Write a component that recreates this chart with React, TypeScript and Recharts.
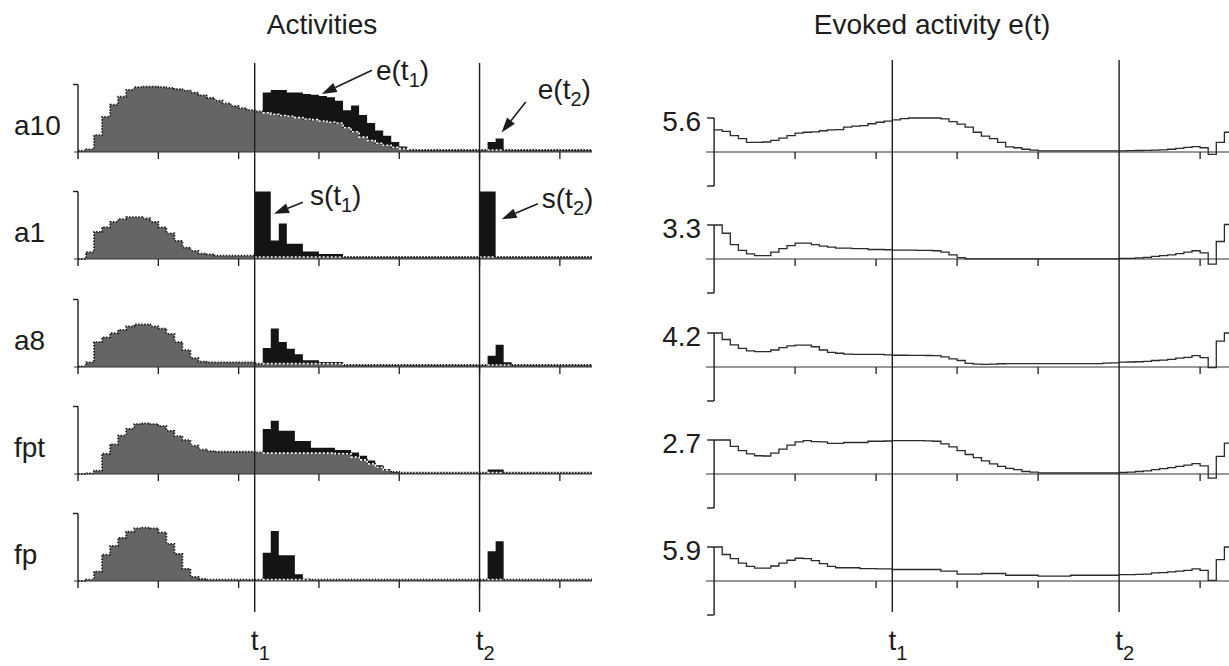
import React from 'react';
import { ComposedChart, Area, Line, XAxis, YAxis, ReferenceLine, ReferenceDot } from 'recharts';

// time bins, 2 units wide; the last entry only closes the final step
const T = [
  0, 2, 4, 6, 8, 10, 12, 14, 16, 18, 20, 22, 24, 26, 28, 30, 32, 34, 36, 38,
  40, 42, 44, 46, 48, 50, 52, 54, 56, 58, 60, 62, 64, 66, 68, 70, 72, 74, 76, 78,
  80, 82, 84, 86, 88, 90, 92, 94, 96, 98, 100, 102, 104, 106, 108, 110, 112, 114, 116, 118,
  120, 122, 124, 126, 128,
];
const T1 = 44;
const T2 = 100;
const T_SUBS = ['1', '2'];
const LEFT_TICKS = [20, 40, 60, 80, 100, 120];
const RIGHT_TICKS = [20, 40, 60, 80, 120];

const ROW_NAMES = ['a10', 'a1', 'a8', 'fpt', 'fp'];
const EVOKED_MAX = [5.6, 3.3, 4.2, 2.7, 5.9];

// background (grey) activity per row
const a10Bg = [
  0.02, 0.04, 0.25, 0.52, 0.7, 0.82, 0.92, 0.96, 0.97, 0.97,
  0.96, 0.95, 0.93, 0.91, 0.88, 0.84, 0.8, 0.76, 0.72, 0.68,
  0.65, 0.62, 0.6, 0.58, 0.56, 0.54, 0.53, 0.51, 0.49, 0.48,
  0.46, 0.44, 0.43, 0.36, 0.3, 0.22, 0.17, 0.13, 0.1, 0.07,
  0.05, 0.03, 0.03, 0.03, 0.03, 0.03, 0.03, 0.03, 0.03, 0.03,
  0.03, 0.03, 0.03, 0.03, 0.03, 0.03, 0.03, 0.03, 0.03, 0.03,
  0.03, 0.03, 0.03, 0.03, 0.03,
];
const a1Bg = [
  0, 0.1, 0.4, 0.47, 0.55, 0.59, 0.62, 0.62, 0.6, 0.55,
  0.47, 0.38, 0.27, 0.17, 0.12, 0.08, 0.07, 0.05, 0.05, 0.05,
  0.05, 0.05, 0.03, 0.03, 0.03, 0.03, 0.03, 0.03, 0.03, 0.03,
  0.03, 0.03, 0.03, 0.03, 0.03, 0.03, 0.03, 0.03, 0.03, 0.03,
  0.03, 0.03, 0.03, 0.03, 0.03, 0.03, 0.03, 0.03, 0.03, 0.03,
  0.03, 0.03, 0.03, 0.03, 0.03, 0.03, 0.03, 0.03, 0.03, 0.03,
  0.03, 0.03, 0.03, 0.03, 0.03,
];
const a8Bg = [
  0.01, 0.07, 0.37, 0.44, 0.5, 0.55, 0.6, 0.63, 0.63, 0.6,
  0.57, 0.49, 0.37, 0.25, 0.13, 0.08, 0.07, 0.07, 0.07, 0.07,
  0.07, 0.07, 0.05, 0.05, 0.05, 0.05, 0.05, 0.05, 0.05, 0.05,
  0.05, 0.05, 0.05, 0.03, 0.03, 0.03, 0.03, 0.03, 0.03, 0.03,
  0.03, 0.03, 0.03, 0.03, 0.03, 0.03, 0.03, 0.03, 0.03, 0.03,
  0.03, 0.03, 0.03, 0.03, 0.03, 0.03, 0.03, 0.03, 0.03, 0.03,
  0.03, 0.03, 0.03, 0.03, 0.03,
];
const fptBg = [
  0, 0.01, 0.05, 0.3, 0.44, 0.57, 0.67, 0.74, 0.75, 0.74,
  0.71, 0.64, 0.56, 0.5, 0.42, 0.36, 0.34, 0.33, 0.33, 0.33,
  0.33, 0.33, 0.32, 0.31, 0.31, 0.31, 0.31, 0.31, 0.31, 0.31,
  0.31, 0.31, 0.3, 0.3, 0.25, 0.21, 0.15, 0.1, 0.06, 0.03,
  0.02, 0.02, 0.02, 0.02, 0.02, 0.02, 0.02, 0.02, 0.02, 0.02,
  0.02, 0.02, 0.02, 0.02, 0.02, 0.02, 0.02, 0.02, 0.02, 0.02,
  0.02, 0.02, 0.02, 0.02, 0.02,
];
const fpBg = [
  0, 0.02, 0.14, 0.39, 0.52, 0.64, 0.73, 0.78, 0.79, 0.78,
  0.72, 0.55, 0.4, 0.18, 0.06, 0.03, 0.02, 0.02, 0.02, 0.02,
  0.02, 0.02, 0.02, 0.02, 0.02, 0.02, 0.02, 0.02, 0.02, 0.02,
  0.02, 0.02, 0.02, 0.02, 0.02, 0.02, 0.02, 0.02, 0.02, 0.02,
  0.02, 0.02, 0.02, 0.02, 0.02, 0.02, 0.02, 0.02, 0.02, 0.02,
  0.02, 0.02, 0.02, 0.02, 0.02, 0.02, 0.02, 0.02, 0.02, 0.02,
  0.02, 0.02, 0.02, 0.02, 0.02,
];

// stimulus-locked (black) activity, stacked on the background
const a10Ev = [
  0, 0, 0, 0, 0, 0, 0, 0, 0, 0,
  0, 0, 0, 0, 0, 0, 0, 0, 0, 0,
  0, 0, 0, 0.3, 0.36, 0.38, 0.35, 0.37, 0.37, 0.37,
  0.37, 0.37, 0.33, 0.26, 0.39, 0.33, 0.26, 0.19, 0.14, 0.08,
  0.03, 0, 0, 0, 0, 0, 0, 0, 0, 0,
  0, 0.12, 0.17, 0, 0, 0, 0, 0, 0, 0,
  0, 0, 0, 0, 0,
];
const a1Ev = [
  0, 0, 0, 0, 0, 0, 0, 0, 0, 0,
  0, 0, 0, 0, 0, 0, 0, 0, 0, 0,
  0, 0, 0.97, 0.97, 0.245, 0.495, 0.195, 0.195, 0.08, 0.08,
  0.045, 0.045, 0.045, 0, 0, 0, 0, 0, 0, 0,
  0, 0, 0, 0, 0, 0, 0, 0, 0, 0,
  0.97, 0.97, 0, 0, 0, 0, 0, 0, 0, 0,
  0, 0, 0, 0, 0,
];
const a8Ev = [
  0, 0, 0, 0, 0, 0, 0, 0, 0, 0,
  0, 0, 0, 0, 0, 0, 0, 0, 0, 0,
  0, 0, 0, 0.23, 0.52, 0.32, 0.22, 0.14, 0.05, 0.05,
  0.025, 0.025, 0.025, 0, 0, 0, 0, 0, 0, 0,
  0, 0, 0, 0, 0, 0, 0, 0, 0, 0,
  0, 0.135, 0.3, 0.04, 0, 0, 0, 0, 0, 0,
  0, 0, 0, 0, 0,
];
const fptEv = [
  0, 0, 0, 0, 0, 0, 0, 0, 0, 0,
  0, 0, 0, 0, 0, 0, 0, 0, 0, 0,
  0, 0, 0, 0.355, 0.48, 0.33, 0.33, 0.18, 0.18, 0.08,
  0.08, 0.08, 0.055, 0.055, 0.07, 0.06, 0.05, 0.03, 0.015, 0,
  0, 0, 0, 0, 0, 0, 0, 0, 0, 0,
  0, 0.045, 0.045, 0, 0, 0, 0, 0, 0, 0,
  0, 0, 0, 0, 0,
];
const fpEv = [
  0, 0, 0, 0, 0, 0, 0, 0, 0, 0,
  0, 0, 0, 0, 0, 0, 0, 0, 0, 0,
  0, 0, 0, 0.4, 0.72, 0.36, 0.36, 0.08, 0.015, 0,
  0, 0, 0, 0, 0, 0, 0, 0, 0, 0,
  0, 0, 0, 0, 0, 0, 0, 0, 0, 0,
  0, 0.42, 0.57, 0, 0, 0, 0, 0, 0, 0,
  0, 0, 0, 0, 0,
];

// evoked activity e(t) per row
const e56 = [
  3.65, 3.4, 2.7, 2.2, 1.57, 1.57, 1.65, 1.9, 2.3, 2.7,
  3.1, 3.25, 3.3, 3.5, 3.64, 3.7, 4.1, 4.26, 4.35, 4.65,
  4.9, 5.1, 5.3, 5.5, 5.6, 5.6, 5.6, 5.6, 5.45, 5.0,
  4.6, 4.1, 3.25, 2.6, 2.2, 1.57, 0.85, 0.7, 0.45, 0.3,
  0.17, 0.17, 0.17, 0.17, 0.17, 0.17, 0.17, 0.17, 0.17, 0.17,
  0.2, 0.22, 0.25, 0.28, 0.3, 0.35, 0.45, 0.6, 0.75, 0.9,
  0.7, -0.4, 1.6, 3.25, 3.25,
];
const e33 = [
  3.3, 2.5, 1.4, 0.83, 0.5, 0.33, 0.33, 0.66, 1.0, 1.3,
  1.55, 1.55, 1.4, 1.25, 1.15, 1.05, 1.05, 1.0, 1.0, 0.92,
  0.92, 0.9, 0.86, 0.86, 0.86, 0.83, 0.83, 0.8, 0.66, 0.4,
  0.13, 0.02, 0.02, 0.02, 0.02, 0.02, 0.02, 0.02, 0.02, 0.02,
  0.02, 0.02, 0.02, 0.02, 0.02, 0.02, 0.02, 0.02, 0.02, 0.02,
  0.07, 0.07, 0.1, 0.16, 0.26, 0.33, 0.4, 0.53, 0.66, 0.8,
  0.6, -0.5, 1.7, 3.35, 3.35,
];
const e42 = [
  4.2, 3.4, 2.73, 2.3, 2.0, 1.9, 1.9, 2.1, 2.4, 2.6,
  2.7, 2.7, 2.5, 2.1, 1.8, 1.7, 1.6, 1.55, 1.55, 1.55,
  1.55, 1.5, 1.45, 1.45, 1.43, 1.43, 1.42, 1.4, 1.25, 1.0,
  0.8, 0.45, 0.35, 0.32, 0.35, 0.4, 0.42, 0.42, 0.42, 0.42,
  0.42, 0.42, 0.42, 0.42, 0.42, 0.42, 0.42, 0.42, 0.48, 0.5,
  0.6, 0.62, 0.65, 0.7, 0.8, 0.85, 0.95, 1.1, 1.2, 1.4,
  1.15, -0.08, 3.2, 4.2, 4.2,
];
const e27 = [
  2.7, 2.7, 2.2, 1.86, 1.6, 1.45, 1.43, 1.65, 1.97, 2.3,
  2.55, 2.65, 2.57, 2.55, 2.43, 2.43, 2.5, 2.5, 2.5, 2.6,
  2.6, 2.62, 2.65, 2.65, 2.65, 2.65, 2.63, 2.6, 2.4, 2.15,
  1.85, 1.55, 1.3, 1.05, 0.8, 0.6, 0.45, 0.35, 0.2, 0.15,
  0.08, 0.08, 0.08, 0.08, 0.08, 0.08, 0.08, 0.08, 0.08, 0.08,
  0.12, 0.15, 0.2, 0.25, 0.35, 0.42, 0.5, 0.6, 0.7, 0.82,
  0.65, -0.32, 1.4, 2.45, 2.45,
];
const e59 = [
  5.9, 4.6, 3.9, 3.1, 2.55, 2.25, 2.25, 2.6, 3.1, 3.6,
  3.95, 3.9, 3.55, 3.0, 2.55, 2.3, 2.3, 2.3, 2.15, 2.15,
  2.12, 2.12, 2.0, 2.0, 2.0, 2.0, 2.0, 2.0, 1.7, 1.7,
  1.2, 1.2, 1.2, 1.3, 1.3, 1.3, 1.0, 1.0, 1.0, 1.0,
  0.85, 0.85, 0.85, 0.85, 1.0, 1.0, 1.0, 1.0, 1.0, 1.0,
  1.1, 1.1, 1.15, 1.2, 1.4, 1.45, 1.6, 1.7, 1.85, 2.1,
  1.83, 0.12, 3.7, 5.9, 5.9,
];

const BG = [a10Bg, a1Bg, a8Bg, fptBg, fpBg];
const EV = [a10Ev, a1Ev, a8Ev, fptEv, fpEv];
const EVOKED = [e56, e33, e42, e27, e59];

// arrows with their labels: e(t1), e(t2), s(t1), s(t2)
const NOTES = [
  { row: 0, text: 'e', sub: '1', from: [73.2, 1.21], to: [60.7, 0.86], dx: 4, dy: 10 },
  { row: 0, text: 'e', sub: '2', from: [111.5, 0.74], to: [105.5, 0.29], dx: 12, dy: -3 },
  { row: 1, text: 's', sub: '1', from: [56, 0.84], to: [48.8, 0.67], dx: 7, dy: 3 },
  { row: 1, text: 's', sub: '2', from: [114.5, 0.82], to: [105.5, 0.59], dx: 4, dy: 4 },
];

const data = T.map((t, i) => {
  const row: Record<string, number | null> = { t };
  ROW_NAMES.forEach((name, k) => {
    const bg = BG[k];
    const ev = EV[k];
    row[`${name}_bg`] = bg[i];
    row[`${name}_ev`] = ev[i];
    // grey top shown as white dots where black sits on top of it
    row[`${name}_edge`] = ev[i] > 0 || (i > 0 && ev[i - 1] > 0) ? bg[i] : null;
    row[`e${k}`] = EVOKED[k][i];
  });
  return row;
});

const FONT = '"Liberation Sans", Arial, Helvetica, sans-serif';
const INK = '#1c1c1c';
const BASE = [152, 259, 367, 474, 581];
const LEFT = { top: 63, bottom: 612, rowPx: 67.5 };
const RIGHT = { top: 60, bottom: 612, halfPx: 34 };

const SubText = ({ x, y, main, sub }: any) => (
  <text x={x} y={y} fontSize={28} fontFamily={FONT} fill={INK}>
    <tspan>{main}(t</tspan>
    <tspan dy={7} fontSize={20}>{sub}</tspan>
    <tspan dy={-7}>)</tspan>
  </text>
);

const TimeTick = (props: any) => {
  const { x, y, payload } = props;
  const sub = payload.value === T1 ? T_SUBS[0] : T_SUBS[1];
  return (
    <g>
      <text x={x} y={y + 30} textAnchor="middle" fontSize={28} fontFamily={FONT} fill={INK}>t</text>
      <text x={x + 4} y={y + 40} fontSize={20} fontFamily={FONT} fill={INK}>{sub}</text>
    </g>
  );
};

const arrowShape = (note: any) => (p: any) => {
  const { x1, y1, x2, y2 } = p;
  const ang = Math.atan2(y2 - y1, x2 - x1);
  const len = 15;
  const hw = 5;
  const bx = x2 - len * Math.cos(ang);
  const by = y2 - len * Math.sin(ang);
  const nx = -Math.sin(ang) * hw;
  const ny = Math.cos(ang) * hw;
  return (
    <g>
      <line x1={x1} y1={y1} x2={bx} y2={by} stroke={INK} strokeWidth={1.6} />
      <polygon points={`${x2},${y2} ${bx + nx},${by + ny} ${bx - nx},${by - ny}`} fill={INK} />
      <SubText x={x1 + note.dx} y={y1 + note.dy} main={note.text} sub={note.sub} />
    </g>
  );
};

const leftBracket = (name: string) => (p: any) => (
  <g>
    <line x1={p.x1} y1={p.y2} x2={p.x1} y2={p.y1 + 7} stroke={INK} strokeWidth={1.4} />
    <line x1={p.x1 - 5} y1={p.y2} x2={p.x1} y2={p.y2} stroke={INK} strokeWidth={1.4} />
    <text x={14} y={p.y1 - 27} dominantBaseline="central" fontSize={28} fontFamily={FONT} fill={INK}>
      {name}
    </text>
  </g>
);

const rightBracket = (m: number) => (p: any) => (
  <g>
    <line x1={p.x1} y1={p.y1} x2={p.x2} y2={p.y2} stroke={INK} strokeWidth={1.4} />
    <line x1={p.x1 - 7} y1={p.y2} x2={p.x1} y2={p.y2} stroke={INK} strokeWidth={1.4} />
    <line x1={p.x1 - 7} y1={p.y1} x2={p.x1} y2={p.y1} stroke={INK} strokeWidth={1.4} />
    <text x={p.x1 - 13} y={p.y2 + 3} textAnchor="end" dominantBaseline="central" fontSize={28} fontFamily={FONT} fill={INK}>
      {m.toFixed(1)}
    </text>
  </g>
);

const tickMark = (p: any) => (
  <line x1={p.cx} y1={p.cy} x2={p.cx} y2={p.cy + 7} stroke={INK} strokeWidth={1.3} />
);

function ActivitiesPanel() {
  return (
    <ComposedChart width={620} height={666} data={data} margin={{ top: LEFT.top, right: 28, bottom: 0, left: 74 }}>
      <XAxis
        dataKey="t" type="number" domain={[-1, 128]} allowDataOverflow
        ticks={[T1, T2]} interval={0} tick={TimeTick}
        axisLine={false} tickLine={false} height={54}
      />
      {ROW_NAMES.map((name, k) => (
        <YAxis
          key={name} yAxisId={k} hide type="number" allowDataOverflow
          domain={[(BASE[k] - LEFT.bottom) / LEFT.rowPx, (BASE[k] - LEFT.top) / LEFT.rowPx]}
        />
      ))}
      {ROW_NAMES.map((name, k) => (
        <Area
          key={`${name}_bg`} yAxisId={k} dataKey={`${name}_bg`} stackId={name} type="stepAfter"
          fill="#656565" fillOpacity={1} stroke="#1e1e1e" strokeWidth={1.8} strokeDasharray="1.5 1.5"
          isAnimationActive={false}
        />
      ))}
      {ROW_NAMES.map((name, k) => (
        <Area
          key={`${name}_ev`} yAxisId={k} dataKey={`${name}_ev`} stackId={name} type="stepAfter"
          fill="#141414" fillOpacity={1} stroke="none" isAnimationActive={false}
        />
      ))}
      {ROW_NAMES.map((name, k) => (
        <Line
          key={`${name}_edge`} yAxisId={k} dataKey={`${name}_edge`} type="stepAfter"
          stroke="#ffffff" strokeWidth={1.6} strokeDasharray="2 2" dot={false}
          isAnimationActive={false}
        />
      ))}
      {ROW_NAMES.map((name, k) => (
        <ReferenceLine key={`${name}_base`} yAxisId={k} y={0} stroke="#333" strokeWidth={1.2} />
      ))}
      {ROW_NAMES.map((name, k) =>
        LEFT_TICKS.map((tk) => (
          <ReferenceDot key={`${name}_${tk}`} yAxisId={k} x={tk} y={0} r={0} shape={tickMark} ifOverflow="visible" />
        ))
      )}
      {ROW_NAMES.map((name, k) => (
        <ReferenceLine
          key={`${name}_br`} yAxisId={k} ifOverflow="visible"
          segment={[{ x: 0, y: 0 }, { x: 0, y: 1 }]} shape={leftBracket(name)}
        />
      ))}
      <ReferenceLine yAxisId={0} x={T1} stroke={INK} strokeWidth={1.4} />
      <ReferenceLine yAxisId={0} x={T2} stroke={INK} strokeWidth={1.4} />
      {NOTES.map((n, i) => (
        <ReferenceLine
          key={`note${i}`} yAxisId={n.row} ifOverflow="visible"
          segment={[{ x: n.from[0], y: n.from[1] }, { x: n.to[0], y: n.to[1] }]}
          shape={arrowShape(n)}
        />
      ))}
    </ComposedChart>
  );
}

function EvokedPanel() {
  return (
    <ComposedChart width={640} height={666} data={data} margin={{ top: RIGHT.top, right: 7.5, bottom: 0, left: 106 }}>
      <XAxis
        dataKey="t" type="number" domain={[-2, 128]} allowDataOverflow
        ticks={[T1, T2]} interval={0} tick={TimeTick}
        axisLine={false} tickLine={false} height={54}
      />
      {EVOKED_MAX.map((m, k) => (
        <YAxis
          key={`y${k}`} yAxisId={k} hide type="number" allowDataOverflow
          domain={[((BASE[k] - RIGHT.bottom) * m) / RIGHT.halfPx, ((BASE[k] - RIGHT.top) * m) / RIGHT.halfPx]}
        />
      ))}
      {EVOKED_MAX.map((m, k) => (
        <ReferenceLine key={`base${k}`} yAxisId={k} y={0} stroke="#333" strokeWidth={1.2} />
      ))}
      {EVOKED_MAX.map((m, k) =>
        RIGHT_TICKS.map((tk) => (
          <ReferenceDot key={`tk${k}_${tk}`} yAxisId={k} x={tk} y={0} r={0} shape={tickMark} ifOverflow="visible" />
        ))
      )}
      {EVOKED_MAX.map((m, k) => (
        <ReferenceLine
          key={`br${k}`} yAxisId={k} ifOverflow="visible"
          segment={[{ x: 0, y: -m }, { x: 0, y: m }]} shape={rightBracket(m)}
        />
      ))}
      <ReferenceLine yAxisId={0} x={T1} stroke={INK} strokeWidth={1.4} />
      <ReferenceLine yAxisId={0} x={T2} stroke={INK} strokeWidth={1.4} />
      {EVOKED_MAX.map((m, k) => (
        <Line
          key={`e${k}`} yAxisId={k} dataKey={`e${k}`} type="stepAfter"
          stroke="#2a2a2a" strokeWidth={1.3} dot={false} isAnimationActive={false}
        />
      ))}
    </ComposedChart>
  );
}

const titleStyle: React.CSSProperties = {
  position: 'absolute',
  top: 10,
  fontFamily: FONT,
  fontSize: 28,
  lineHeight: '30px',
  color: INK,
  textAlign: 'center',
  whiteSpace: 'nowrap',
};

export default function App() {
  return (
    <div style={{ position: 'relative', width: 1229, height: 666, overflow: 'hidden', background: '#fff' }}>
      <style>{'body{margin:0}'}</style>
      <div style={{ ...titleStyle, left: 172, width: 300 }}>Activities</div>
      <div style={{ ...titleStyle, left: 782, width: 300 }}>Evoked activity e(t)</div>
      <div style={{ position: 'absolute', left: 0, top: 0 }}>
        <ActivitiesPanel />
      </div>
      <div style={{ position: 'absolute', left: 600, top: 0 }}>
        <EvokedPanel />
      </div>
    </div>
  );
}
